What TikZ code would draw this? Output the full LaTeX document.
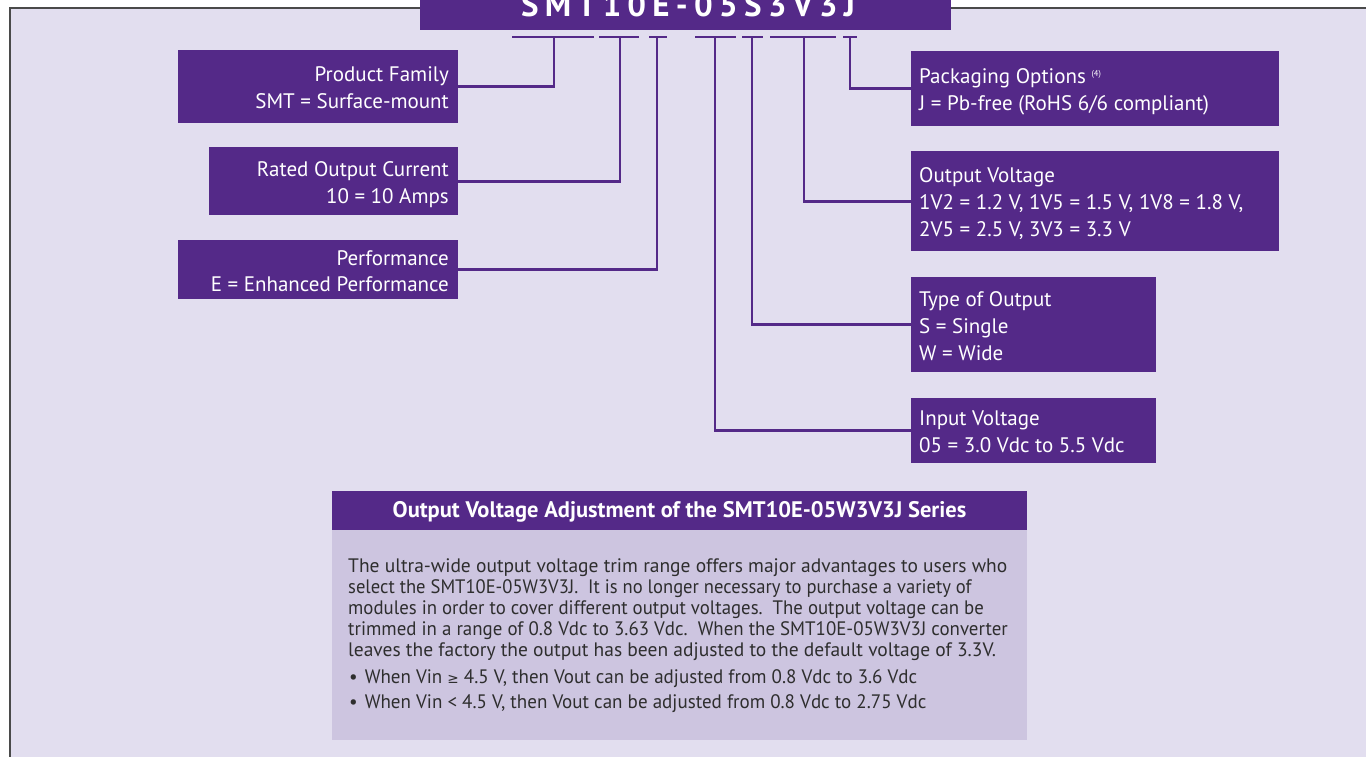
\documentclass[tikz,border=0pt]{standalone}
\usepackage{fontspec}
\setmainfont{PT Sans}
\newfontfamily\symfont{DejaVu Sans}
\definecolor{purp}{HTML}{542988}
\definecolor{bg}{HTML}{E2DEEF}
\definecolor{bodybg}{HTML}{CDC5E0}
\definecolor{framec}{HTML}{4A4A4A}
\definecolor{txt}{HTML}{2E2E2E}
\newcommand{\hsq}[2]{\scalebox{#1}[1]{#2}}
\begin{document}
\begin{tikzpicture}[x=1pt,y=-1pt,
  box/.style={fill=purp, draw=none, inner sep=0pt, anchor=north west},
  lbl/.style={text=white, font=\fontsize{21}{26.7}\selectfont, inner sep=0pt},
  conn/.style={draw=purp, line width=2.6pt},
]
\useasboundingbox (0,0) rectangle (1366,756);
\fill[white] (0,0) rectangle (1366,756);
\fill[bg] (10,8) rectangle (1380,770);
\draw[framec, line width=2.2pt] (10,780) -- (10,8) -- (1380,8);

% title
\node[box, minimum width=531, minimum height=45, anchor=south west] (title) at (420,30) {};
\node[text=white, inner sep=0pt, anchor=base,
      font=\bfseries\fontsize{33}{33}\selectfont\addfontfeature{LetterSpace=19}] (ttl) at (688,16) {SMT10E-05S3V3J};

% left boxes
\node[box, minimum width=280, minimum height=73] (pf) at (178,50) {};
\node[box, minimum width=249, minimum height=68] (roc) at (209,147) {};
\node[box, minimum width=280, minimum height=59] (perf) at (178,240) {};
\node[lbl, align=right, anchor=base east] (pft) at (449,108.3) {Product Family\\SMT = Surface-mount};
\node[lbl, align=right, anchor=base east] (roct) at (449,203) {Rated Output Current\\10 = 10 Amps};
\node[lbl, align=right, anchor=base east] (perft) at (449,291.7) {Performance\\E = Enhanced Performance};

% right boxes
\node[box, minimum width=368, minimum height=75] (pack) at (911,51) {};
\node[box, minimum width=368, minimum height=100] (ov) at (911,151) {};
\node[box, minimum width=245, minimum height=95] (type) at (911,277) {};
\node[box, minimum width=245, minimum height=65] (inp) at (911,398) {};
\node[lbl, align=left, anchor=base west] (packt) at (919,110) {Packaging Options \raisebox{7pt}{\fontsize{8.5}{9}\selectfont(4)}\\J = Pb-free (RoHS 6/6 compliant)};
\node[lbl, align=left, anchor=base west] (ovt) at (919,236) {Output Voltage\\1V2 = 1.2 V, 1V5 = 1.5 V, 1V8 = 1.8 V,\\2V5 = 2.5 V, 3V3 = 3.3 V};
\node[lbl, align=left, anchor=base west] (typet) at (919,360) {Type of Output\\S = Single\\W = Wide};
\node[lbl, align=left, anchor=base west] (inpt) at (919,452) {Input Voltage\\05 = 3.0 Vdc to 5.5 Vdc};

% bracket coordinates
\coordinate (b1l) at (512,37); \coordinate (b1r) at (594,37); \coordinate (b1d) at (554,37);
\coordinate (b2l) at (599,37); \coordinate (b2r) at (639,37); \coordinate (b2d) at (620,37);
\coordinate (b3l) at (649,37); \coordinate (b3r) at (667,37); \coordinate (b3d) at (657,37);
\coordinate (b4l) at (695,37); \coordinate (b4r) at (736,37); \coordinate (b4d) at (715,37);
\coordinate (b5l) at (742,37); \coordinate (b5r) at (763,37); \coordinate (b5d) at (752,37);
\coordinate (b6l) at (770,37); \coordinate (b6r) at (836,37); \coordinate (b6d) at (804,37);
\coordinate (b7l) at (843,37); \coordinate (b7r) at (857,37); \coordinate (b7d) at (850,37);

\foreach \i in {1,...,7} { \draw[conn] (b\i l) -- (b\i r); }
\draw[conn] (b1d) |- (pf.east);
\draw[conn] (b2d) |- (roc.east);
\draw[conn] (b3d) |- (perf.east);
\draw[conn] (b4d) |- (inp.west);
\draw[conn] (b5d) |- (type.west);
\draw[conn] (b6d) |- (ov.west);
\draw[conn] (b7d) |- (pack.west);

% bottom info box
\node[box, minimum width=695, minimum height=39] (hdr) at (332,491) {};
\node[box, fill=bodybg, minimum width=695, minimum height=210] (body) at (332,530) {};
\node[text=white, inner sep=0pt, anchor=base, font=\bfseries\fontsize{22.5}{23}\selectfont] (hdrt) at (679.5,517) {Output Voltage Adjustment of the SMT10E-05W3V3J Series};
\node[text=txt, inner sep=0pt, anchor=base west, align=left, font=\fontsize{19.5}{21}\selectfont] (bodyt) at (348,708.7) {%
The ultra-wide output voltage trim range offers major advantages to users who\\
\hsq{0.953}{select the SMT10E-05W3V3J.\ \ It is no longer necessary to purchase a variety of}\\
\hsq{0.964}{modules in order to cover different output voltages.\ \ The output voltage can be}\\
\hsq{0.97}{trimmed in a range of 0.8 Vdc to 3.63 Vdc.\ \ When the SMT10E-05W3V3J converter}\\
leaves the factory the output has been adjusted to the default voltage of 3.3V.\\[6pt]
\hsq{0.975}{\makebox[17pt][l]{\hspace{1pt}•}When Vin {\symfont\fontsize{14}{14}\selectfont ≥} 4.5 V, then Vout can be adjusted from 0.8 Vdc to 3.6 Vdc}\\[4pt]
\hsq{0.976}{\makebox[17pt][l]{\hspace{1pt}•}When Vin < 4.5 V, then Vout can be adjusted from 0.8 Vdc to 2.75 Vdc}};
\end{tikzpicture}
\end{document}
